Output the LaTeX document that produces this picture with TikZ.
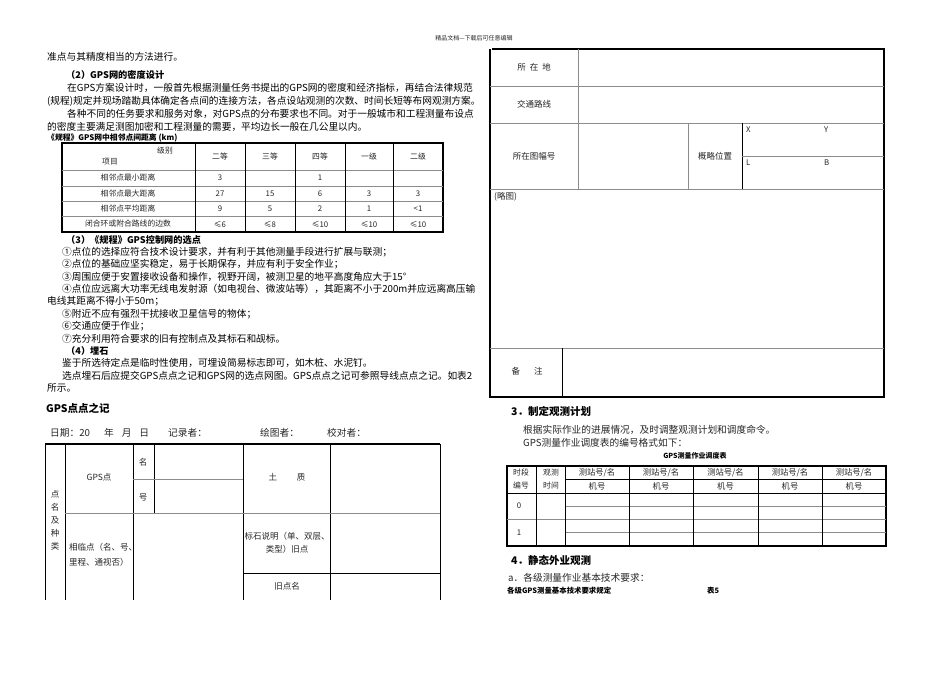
\documentclass[tikz,border=0pt]{standalone}
\usepackage{fontspec}
\setmainfont{Noto Sans CJK SC}
\begin{document}
\begin{tikzpicture}[x=1pt,y=-1pt,
  t/.style={anchor=west,inner sep=0,font=\fontsize{9.7}{11}\selectfont},
  h/.style={anchor=west,inner sep=0,font=\fontsize{9.2}{10}\selectfont\bfseries},
  hb/.style={anchor=west,inner sep=0,font=\fontsize{10.5}{12}\selectfont\bfseries},
  c/.style={inner sep=0,font=\fontsize{7.8}{9}\selectfont,text=black!85,align=center},
  cl/.style={c,anchor=west,align=left},
  ob/.style={line width=1.1pt},
  gl/.style={line width=0.8pt,black!45},
  tl/.style={line width=0.5pt}]
\useasboundingbox (0,0) rectangle (950,672);
\fill[white] (0,0) rectangle (950,672);
\node[c,font=\fontsize{6}{7}\selectfont] (hdr) at (474,38) {精品文档---下载后可任意编辑};
% left column text
\node[t] (l1) at (47,57) {准点与其精度相当的方法进行。};
\node[h] (s2) at (66,75) {（2）GPS网的密度设计};
\node[t] (p1) at (67,88) {在GPS方案设计时，一般首先根据测量任务书提出的GPS网的密度和经济指标，再结合法律规范};
\node[t] (p2) at (47,101) {(规程)规定并现场踏勘具体确定各点间的连接方法，各点设站观测的次数、时间长短等布网观测方案。};
\node[t] (p3) at (67,114) {各种不同的任务要求和服务对象，对GPS点的分布要求也不同。对于一般城市和工程测量布设点};
\node[t] (p4) at (47,127) {的密度主要满足测图加密和工程测量的需要，平均边长一般在几公里以内。};
\node[h,font=\fontsize{7.8}{9}\selectfont\bfseries] (cap1) at (47,138) {《规程》GPS网中相邻点间距离 (km)};
% table 1
\draw[ob] (62,143) rectangle (443,232);
\foreach \y in {170,186,201,216} \draw[gl] (62,\y) -- (443,\y);
\foreach \x in {195,245,295,345,393} \draw[tl] (\x,143) -- (\x,232);
\node[c] (lv) at (165,151) {级别};
\node[c] (xm) at (110,162) {项目};
\foreach \x/\s in {220/二等,270/三等,320/四等,369/一级,418/二级} \node[c] at (\x,157) {\s};
\node[c] (r1) at (128,178) {相邻点最小距离};
\node[c] (r2) at (128,193.5) {相邻点最大距离};
\node[c] (r3) at (128,208.5) {相邻点平均距离};
\node[c] (r4) at (128,224) {闭合环或附合路线的边数};
\node[c] at (220,178) {3}; \node[c] at (320,178) {1};
\foreach \x/\s in {220/27,270/15,320/6,369/3,418/3} \node[c] at (\x,193.5) {\s};
\foreach \x/\s in {220/9,270/5,320/2,369/1,418/<1} \node[c] at (\x,208.5) {\s};
\foreach \x/\s in {220/≤6,270/≤8,320/≤10,369/≤10,418/≤10} \node[c] at (\x,224) {\s};
% section 3
\node[h] (s3) at (66,240) {（3）《规程》GPS控制网的选点};
\node[t] (i1) at (62,252) {①点位的选择应符合技术设计要求，并有利于其他测量手段进行扩展与联测；};
\node[t] (i2) at (62,264.4) {②点位的基础应坚实稳定，易于长期保存，并应有利于安全作业；};
\node[t] (i3) at (62,276.8) {③周围应便于安置接收设备和操作，视野开阔，被测卫星的地平高度角应大于15°};
\node[t] (i4) at (62,289.2) {④点位应远离大功率无线电发射源（如电视台、微波站等），其距离不小于200m并应远离高压输};
\node[t] (i4b) at (47,301.6) {电线其距离不得小于50m；};
\node[t] (i5) at (62,314) {⑤附近不应有强烈干扰接收卫星信号的物体；};
\node[t] (i6) at (62,326.4) {⑥交通应便于作业；};
\node[t] (i7) at (62,338.8) {⑦充分利用符合要求的旧有控制点及其标石和觇标。};
\node[h] (s4) at (66,351) {（4）埋石};
\node[t] (q1) at (62,363.4) {鉴于所选待定点是临时性使用，可埋设简易标志即可，如木桩、水泥钉。};
\node[t] (q2) at (62,375.8) {选点埋石后应提交GPS点点之记和GPS网的选点网图。GPS点点之记可参照导线点点之记。如表2};
\node[t] (q3) at (47,388.2) {所示。};
\node[hb] (gt) at (46,408) {GPS点点之记};
\node[t,text=black!85] (dl) at (50,433) {日期：20\hspace{14pt}年\hspace{8pt}月\hspace{8pt}日};
\node[t,text=black!85] (dr) at (168,433) {记录者：};
\node[t,text=black!85] (dh) at (260,433) {绘图者：};
\node[t,text=black!85] (dj) at (327,433) {校对者：};
% table 2
\draw[ob] (45,444) -- (440,444);
\draw[tl] (45,444) -- (45,600) (440,444) -- (440,600);
\draw[tl] (65,444) -- (65,600) (133,444) -- (133,600) (154,444) -- (154,513) (243,444) -- (243,600) (330,444) -- (330,600);
\draw[gl] (133,479) -- (243,479);
\draw[gl] (65,513) -- (440,513);
\draw[tl] (243,573) -- (440,573);
\node[c,align=center,font=\fontsize{8.5}{13}\selectfont] (dm) at (55,520) {点\\名\\及\\种\\类};
\node[c,font=\fontsize{8.5}{10}\selectfont] (gp) at (99,477) {GPS点};
\node[c,font=\fontsize{8.5}{10}\selectfont] (mi) at (143,462) {名};
\node[c,font=\fontsize{8.5}{10}\selectfont] (ha) at (143,497) {号};
\node[c,font=\fontsize{8.5}{10}\selectfont] (tz) at (287,477) {土\hspace{20pt}质};
\node[cl,font=\fontsize{8.5}{15}\selectfont] (xl) at (69,555) {相临点（名、号、\\里程、通视否）};
\node[c,font=\fontsize{8.5}{13}\selectfont] (bs) at (287,543) {标石说明（单、双层、\\类型）旧点};
\node[c,font=\fontsize{8.5}{10}\selectfont] (jd) at (287,586) {旧点名};
% right top table
\draw[ob] (492,49) -- (884,49) -- (884,397) -- (490,397) -- (490,49);
\foreach \y in {86,123,189,348} \draw[gl] (490,\y) -- (884,\y);
\draw[gl] (578,49) -- (578,189);
\draw[gl] (688,123) -- (688,189);
\draw[tl] (742,123) -- (742,189);
\draw[gl] (742,156) -- (884,156);
\draw[tl] (562,348) -- (562,397);
\node[c,font=\fontsize{8.5}{10}\selectfont] (sz) at (534,67) {所\hspace{4pt}在\hspace{4pt}地};
\node[c,font=\fontsize{8.5}{10}\selectfont] (jt) at (534,104) {交通路线};
\node[c,font=\fontsize{8.5}{10}\selectfont] (tf) at (534,156) {所在图幅号};
\node[c,font=\fontsize{8.5}{10}\selectfont] (gl) at (715,156) {概略位置};
\node[cl] (xx) at (746,130) {X};
\node[cl] (yy) at (824,130) {Y};
\node[cl] (ll) at (746,163) {L};
\node[cl] (bb) at (824,163) {B};
\node[cl,font=\fontsize{8.5}{10}\selectfont] (lt) at (494,197) {(略图)};
\node[c,font=\fontsize{8.5}{10}\selectfont] (bz) at (527,371) {备\hspace{14pt}注};
% section 3 right
\node[hb] (r3h) at (511,411) {3．制定观测计划};
\node[t,text=black!85] (rp1) at (523,430) {根据实际作业的进展情况，及时调整观测计划和调度命令。};
\node[t,text=black!85] (rp2) at (523,443) {GPS测量作业调度表的编号格式如下：};
\node[c,font=\fontsize{7}{8}\selectfont\bfseries,text=black] (tt) at (695,456) {GPS测量作业调度表};
% table 3
\draw[ob] (507,466) rectangle (886,546);
\draw[tl] (507,493) -- (886,493);
\draw[gl] (507,519) -- (886,519);
\draw[tl] (565,479) -- (886,479);
\draw[gl] (565,506) -- (886,506) (565,532) -- (886,532);
\draw[tl] (536,466) -- (536,546);
\foreach \x in {565,629,693,758,822} \draw[tl] (\x,466) -- (\x,546);
\node[c] at (521,473) {时段}; \node[c] at (521,486) {编号};
\node[c] at (551,473) {观测}; \node[c] at (551,486) {时间};
\foreach \x in {597,661,725.5,790,854} {\node[c,font=\fontsize{8.3}{9}\selectfont] at (\x,473) {测站号/名}; \node[c,font=\fontsize{8.3}{9}\selectfont] at (\x,486) {机号};}
\node[c] (z0) at (519,506) {0};
\node[c] (z1) at (519,533) {1};
\node[hb] (r4h) at (511,560) {4．静态外业观测};
\node[t,text=black!85] (ra) at (508,578) {a．各级测量作业基本技术要求：};
\node[h,font=\fontsize{7.4}{8}\selectfont\bfseries] (rb) at (507,591) {各级GPS测量基本技术要求规定};
\node[h,font=\fontsize{7.4}{8}\selectfont\bfseries] (rt) at (707,591) {表5};
\end{tikzpicture}
\end{document}
